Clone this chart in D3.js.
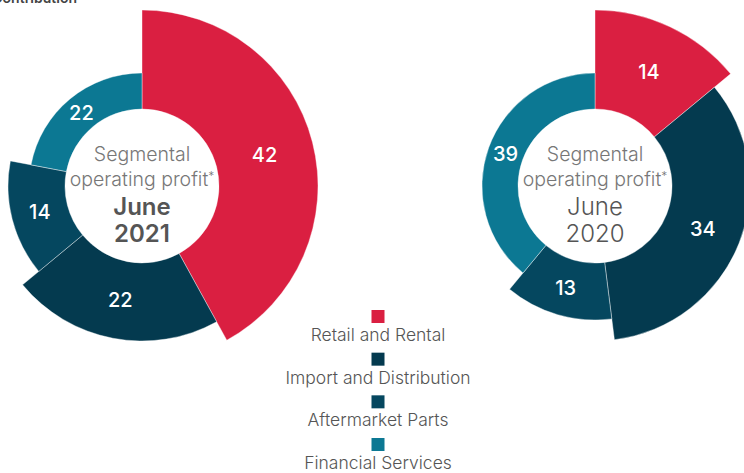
<!DOCTYPE html>
<html>
<head>
<meta charset="utf-8">
<script src="https://cdn.jsdelivr.net/npm/d3@7"></script>
<style>
  body { margin: 0; background: #fff; }
  svg { display: block; font-family: Inter, "Open Sans", sans-serif; }
</style>
</head>
<body>
<div id="chart"></div>
<script>
// Segments and their colours
const segments = ["Retail and Rental", "Import and Distribution", "Aftermarket Parts", "Financial Services"];
const segColors = ["#da1f41", "#043a4f", "#05475f", "#0c7893"];

// Share of segmental operating profit (%)
const values2021 = [42, 22, 14, 22];
const values2020 = [14, 34, 13, 39];

const charts = [
    { values: values2021, month: "June", year: "2021", bold: true },
    { values: values2020, month: "June", year: "2020", bold: false }
];

const width = 744, height = 473;
const innerR = 77;

const svg = d3.select("#chart").append("svg")
    .attr("width", width)
    .attr("height", height);

// heading, mostly above the top edge
svg.append("text")
    .attr("x", 77).attr("y", 3)
    .attr("text-anchor", "end")
    .style("font-size", "14px")
    .style("font-weight", 600)
    .style("fill", "#444")
    .text("Contribution");

const color = d3.scaleOrdinal().domain(segments).range(segColors);
// each segment gets its own outer radius
const outerR = d3.scalePoint().domain(segments).range([176, 113]);

const pie = d3.pie().sort(null).value(d => d.value);
const arc = d3.arc()
    .innerRadius(innerR)
    .outerRadius(d => outerR(d.data.name));

const centers = d3.scalePoint().domain([0, 1]).range([142, 595]);

charts.forEach((c, i) => {
    const g = svg.append("g")
        .attr("transform", `translate(${centers(i)}, 186)`);

    const data = pie(segments.map((s, k) => ({ name: s, value: c.values[k] })));

    g.selectAll("path")
        .data(data)
        .enter().append("path")
        .attr("d", arc)
        .style("fill", d => color(d.data.name))
        .style("stroke", "#fff")
        .style("stroke-width", 0.4);

    g.selectAll(".lbl")
        .data(data)
        .enter().append("text")
        .attr("class", "lbl")
        .attr("transform", d => `translate(${arc.centroid(d)})`)
        .attr("dy", "0.36em")
        .attr("text-anchor", "middle")
        .style("fill", "#fff")
        .style("font-size", "20px")
        .style("font-weight", 500)
        .text(d => d.data.value);

    // centre text
    const t = g.append("g").attr("text-anchor", "middle");
    t.append("text").attr("y", -25)
        .style("font-size", "19.5px").style("font-weight", 300).style("fill", "#777")
        .text("Segmental");
    const op = t.append("text").attr("y", 0)
        .style("font-size", "19.5px").style("font-weight", 300).style("fill", "#777")
        .text("operating profit");
    op.append("tspan").attr("dy", -6).style("font-size", "12px").text("*");
    t.append("text").attr("y", 29)
        .style("font-size", "24px").style("font-weight", c.bold ? 600 : 300).style("fill", "#555")
        .text(c.month);
    t.append("text").attr("y", 56)
        .style("font-size", "24px").style("font-weight", c.bold ? 600 : 300).style("fill", "#555")
        .text(c.year);
});

// legend
const legend = svg.append("g").attr("transform", "translate(378, 0)");
const ly = d3.scalePoint().domain(segments).range([310, 438]);
segments.forEach(s => {
    legend.append("rect")
        .attr("x", -6.5).attr("y", ly(s))
        .attr("width", 13).attr("height", 13)
        .style("fill", color(s));
    legend.append("text")
        .attr("y", ly(s) + 31)
        .attr("text-anchor", "middle")
        .style("font-size", "17.5px")
        .style("font-weight", 300)
        .style("fill", "#555")
        .text(s);
});
</script>
</body>
</html>
